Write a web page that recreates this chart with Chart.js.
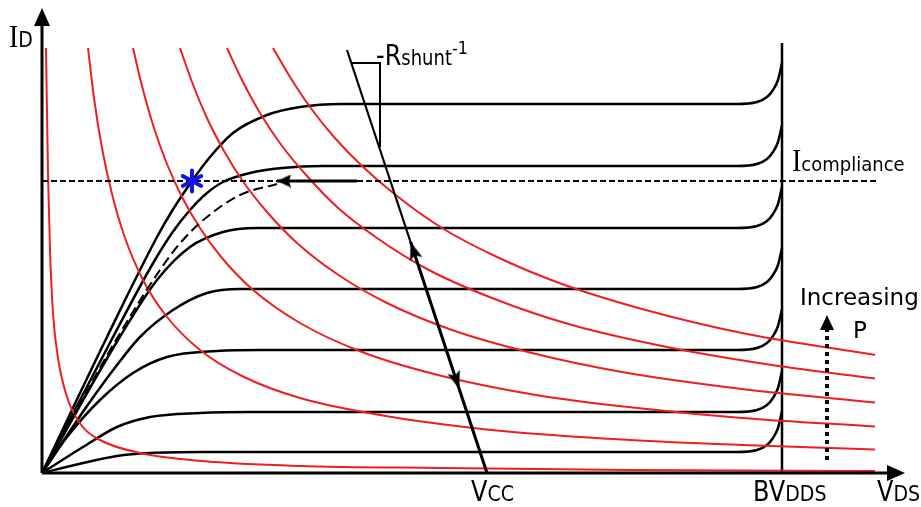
<!DOCTYPE html>
<html>
<head>
<meta charset="utf-8">
<title>I-V sketch</title>
<script src="https://cdn.jsdelivr.net/npm/chart.js@4.4.0/dist/chart.umd.min.js"></script>
<style>
  html, body { margin: 0; padding: 0; background: #fff; }
  canvas { display: block; }
</style>
</head>
<body>
<canvas id="ivChart" width="921" height="507"></canvas>
<script>
// ID vs VDS sketch: device curves, constant power hyperbolas, shunt load line

const xMax = 863;   // VDS axis length (arbitrary units)
const yMax = 465;   // ID axis length

// constant power curves (low P -> high P)
const power1 = [[4,425],[6,300],[8,223],[11,160],[16,115],[25,76],[40,47],[58,33],[98,20],[160,12],[258,7],[400,5],[588,3],[833,2]];
const power2 = [[46,425],[52,375],[60,325],[70,279],[82,238],[101,193],[125,156],[158,123],[200,97],[258,75],[350,56],[460,42],[588,33],[700,28],[833,23.5]];
const power3 = [[91,425],[100,387],[112,345],[125,309],[140,276],[158,245],[180,215],[210,184],[258,150],[320,121],[400,97],[500,77],[600,64.5],[700,55],[833,46.5]];
const power4 = [[138,425],[150,391],[165,355],[182,322],[200,293],[225,261],[255,230],[295,199],[345,170],[410,143],[490,120],[580,101],[700,84],[833,70.5]];
const power5 = [[185,425],[200,393],[218,360],[240,327],[265,297],[295,266],[335,235],[385,204],[450,175],[530,148],[630,125],[730,108],[833,94.5]];
const power6 = [[231,425],[248,396],[268,366],[292,336],[320,307],[355,277],[400,245],[455,216],[520,189],[600,164],[700,140],[833,118]];

// device output curves, top to bottom
const idCurve1 = [[0,0],[65,136],[115,236],[130,262],[150,292],[168,316],[191,340],[225,358],[258,366],[300,369],[695,369],[715,371],[725,376],[731,383],[736,393],[740,410]];
const idCurve2 = [[0,0],[71,136],[110,208],[130,240],[148,263],[165,280],[181,291],[208,300],[240,305],[280,307],[695,307],[715,309],[725,314],[731,321],[736,331],[740,348]];
const idCurve3 = [[0,0],[76,133],[115,193],[148,226],[181,241],[215,245],[695,245],[715,247],[725,252],[731,259],[736,269],[740,286]];
const idCurve4 = [[0,0],[45,67],[75,108],[98,136],[131,163],[165,180],[198,184],[695,184],[715,186],[725,191],[731,198],[736,208],[740,225]];
const idCurve5 = [[0,0],[25,36],[58,73],[91,100],[125,116],[175,122],[220,123],[695,123],[715,125],[725,130],[731,137],[736,147],[740,164]];
const idCurve6 = [[0,0],[41,26],[75,46],[108,56],[158,60],[210,61],[695,61],[715,63],[725,68],[731,75],[736,85],[740,102]];
const idCurve7 = [[0,0],[41,10],[75,17],[108,20],[160,21],[695,21],[715,23],[725,28],[731,35],[736,45],[740,62]];

// limited path (dashed) up to the compliance level
const limitedPath = [[0,0],[74,133],[120,206],[140,232],[165,256],[198,278],[235,289]];

const iCompliance = 292;
const complianceEnd = 835;
const bvDss = 740;
const bvTop = 430;
const loadLine = [[305,423],[445,0]];      // ends at Vcc
const loadArrowUp = [368.6,231];
const loadArrowDown = [417.3,84];
const shuntSlope = [[309,410],[338,410],[338,326]];
const complianceArrow = [[315,292],[235,292]];
const operatingPoint = [150,292];
const increasingP = [[785,13],[785,143]];
const increasingPTip = [785,158];

const pts = (arr) => arr.map(([x, y]) => ({ x, y }));

function arrowHead(len, wid, notch) {
  // tip sits at the canvas centre, pointing up
  const c = document.createElement('canvas');
  c.width = wid; c.height = len * 2;
  const g = c.getContext('2d');
  g.fillStyle = '#000';
  g.beginPath();
  g.moveTo(wid / 2, len);
  g.lineTo(wid, len * 2);
  g.lineTo(wid / 2, len * 2 - (notch || 0));
  g.lineTo(0, len * 2);
  g.closePath();
  g.fill();
  return c;
}

function asterisk(size, color) {
  const c = document.createElement('canvas');
  c.width = c.height = size;
  const g = c.getContext('2d');
  g.strokeStyle = color;
  g.lineWidth = 4;
  g.lineCap = 'round';
  const r = size / 2 - 2.5;
  [90, 28, 152].forEach(a => {
    const t = a * Math.PI / 180;
    g.beginPath();
    g.moveTo(size / 2 - r * Math.cos(t), size / 2 - r * Math.sin(t));
    g.lineTo(size / 2 + r * Math.cos(t), size / 2 + r * Math.sin(t));
    g.stroke();
  });
  return c;
}

const axisHead = arrowHead(18, 16, 0);
const loadHead = arrowHead(18, 13, 4);
const compHead = arrowHead(14, 13, 2);
const pHead = arrowHead(15, 14, 0);

function line(data, color, width, dash, smooth) {
  return {
    data: pts(data),
    showLine: true,
    borderColor: color,
    borderWidth: width,
    borderDash: dash || [],
    pointRadius: 0,
    cubicInterpolationMode: smooth ? 'monotone' : 'default',
    tension: 0,
    clip: false
  };
}

function marker(point, style, rotation) {
  return {
    data: pts([point]),
    showLine: false,
    pointStyle: style,
    pointRotation: rotation,
    pointRadius: 6,
    pointBackgroundColor: 'transparent',
    pointBorderColor: 'transparent',
    clip: false
  };
}

const red = 'rgb(238,30,36)';
const black = '#000';

const datasets = [
  marker(operatingPoint, asterisk(26, 'rgb(20,20,235)'), 0),
  marker([0, yMax], axisHead, 0),
  marker([xMax, 0], axisHead, 90),
  marker(loadArrowUp, loadHead, -18.3),
  marker(loadArrowDown, loadHead, 161.7),
  marker(complianceArrow[1], compHead, -90),
  marker(increasingPTip, pHead, 0),
  line([[0, 0], [0, yMax - 10]], black, 3),
  line([[0, 0], [xMax - 10, 0]], black, 3),
  line(complianceArrow, black, 3),
  line([loadArrowUp, loadLine[1]], black, 3),
  line(loadLine, black, 2.2),
  line(shuntSlope, black, 2),
  line(increasingP, black, 4, [4, 4]),
  line([[0, iCompliance], [complianceEnd, iCompliance]], black, 2, [6, 3]),
  line(limitedPath, black, 2, [10, 5], true),
  line(power1, red, 2, null, true),
  line(power2, red, 2, null, true),
  line(power3, red, 2, null, true),
  line(power4, red, 2, null, true),
  line(power5, red, 2, null, true),
  line(power6, red, 2, null, true),
  line([[bvDss, 0], [bvDss, bvTop]], black, 2.5),
  line(idCurve1, black, 2.5, null, true),
  line(idCurve2, black, 2.5, null, true),
  line(idCurve3, black, 2.5, null, true),
  line(idCurve4, black, 2.5, null, true),
  line(idCurve5, black, 2.5, null, true),
  line(idCurve6, black, 2.5, null, true),
  line(idCurve7, black, 2.5, null, true)
];

const sans = '"DejaVu Sans", sans-serif';
const big = '24px ' + sans;
const small = '19px ' + sans;
const serifI = '28px "Liberation Serif", serif';

// sy = vertical stretch of the lettering (the sketch uses tall, narrow type)
const labels = [
  { at: [-33, 426], sy: 1.1, parts: [{ t: 'I', font: serifI }, { t: 'D', font: small }] },
  { at: [750, 302], sy: 1.12, parts: [{ t: 'I', font: serifI }, { t: 'compliance', font: '18px ' + sans }] },
  { at: [334, 408], sy: 1.15, parts: [{ t: '-R', font: big }, { t: 'shunt', font: '18px ' + sans }, { t: '-1', font: '16px ' + sans, up: 11 }] },
  { at: [429, -28], sy: 1.15, parts: [{ t: 'V', font: big }, { t: 'CC', font: small }] },
  { at: [711, -28], sy: 1.15, parts: [{ t: 'BV', font: big }, { t: 'DDS', font: small }] },
  { at: [835, -28], sy: 1.15, parts: [{ t: 'V', font: big }, { t: 'DS', font: small }] },
  { at: [758, 168], sy: 1, parts: [{ t: 'Increasing', font: '23px ' + sans }] },
  { at: [811, 135], sy: 1, parts: [{ t: 'P', font: '23px ' + sans }] }
];

const labelPlugin = {
  id: 'sketchLabels',
  afterDraw(chart) {
    const { ctx, scales } = chart;
    ctx.save();
    ctx.fillStyle = '#000';
    ctx.textBaseline = 'alphabetic';
    labels.forEach(l => {
      let x = scales.x.getPixelForValue(l.at[0]);
      const y = scales.y.getPixelForValue(l.at[1]);
      l.parts.forEach(p => {
        ctx.font = p.font;
        ctx.save();
        ctx.translate(x, y - (p.up || 0));
        ctx.scale(1, l.sy);
        ctx.fillText(p.t, 0, 0);
        ctx.restore();
        x += ctx.measureText(p.t).width;
      });
    });
    ctx.restore();
  }
};

new Chart(document.getElementById('ivChart'), {
  type: 'scatter',
  data: { datasets: datasets },
  options: {
    responsive: false,
    animation: false,
    devicePixelRatio: 1,
    events: [],
    layout: { padding: { left: 42, right: 16, top: 8, bottom: 34 } },
    scales: {
      x: { type: 'linear', min: 0, max: xMax, display: false },
      y: { type: 'linear', min: 0, max: yMax, display: false }
    },
    plugins: { legend: { display: false }, tooltip: { enabled: false } }
  },
  plugins: [labelPlugin]
});
</script>
</body>
</html>
